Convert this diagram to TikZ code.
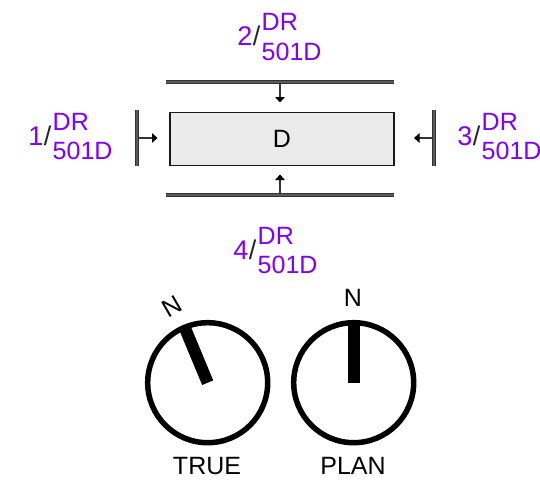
\documentclass[tikz,border=0pt]{standalone}
\usepackage{fontspec}
\setmainfont{Liberation Sans}
\usetikzlibrary{arrows.meta}
\definecolor{labelpurple}{HTML}{7F00FF}
\definecolor{bargray}{HTML}{333333}
\definecolor{barcore}{HTML}{5A5A5A}
\definecolor{boxfill}{HTML}{EBEBEB}
\tikzset{
  bar/.style={draw=bargray,line width=1.2pt,double=barcore,double distance=1.2pt},
  pointer/.style={draw=bargray,line width=1.1pt,-{Triangle[width=9.5pt,length=5.5pt,color=black]}},
  building/.style={draw=black!90,fill=boxfill,line width=1.4pt,minimum width=224pt,minimum height=53.5pt,inner sep=0pt,font=\fontsize{25}{25}\selectfont},
  dial/.style={circle,draw=black,line width=5.5pt,minimum size=120pt,inner sep=0pt},
  needle/.style={draw=black,line width=12pt},
  bigtext/.style={font=\fontsize{25}{25}\selectfont,inner sep=0pt},
  purpletext/.style={bigtext,text=labelpurple},
  numbertext/.style={font=\fontsize{27}{27}\selectfont,inner sep=0pt,text=labelpurple},
  slashtext/.style={font=\fontsize{27}{27}\selectfont,inner sep=0pt,text=black!85},
}
\begin{document}
\begin{tikzpicture}[x=1pt,y=-1pt]
\useasboundingbox (0,0) rectangle (540,495);
% building
\node[building] (box) at (282,139) {D};
% section bars
\coordinate (topL) at (166,82);
\coordinate (topR) at (394,82);
\coordinate (botL) at (166,195);
\coordinate (botR) at (394,195);
\coordinate (leftT) at (137,110);
\coordinate (leftB) at (137,166);
\coordinate (rightT) at (434,110);
\coordinate (rightB) at (434,166);
\draw[bar] (topL) -- (topR);
\draw[bar] (botL) -- (botR);
\draw[bar] (leftT) -- (leftB);
\draw[bar] (rightT) -- (rightB);
% pointers
\coordinate (topS) at (280,83.5);
\coordinate (topE) at (280,102.5);
\coordinate (botS) at (280,193.5);
\coordinate (botE) at (280,174.5);
\coordinate (leftS) at (138.5,138);
\coordinate (leftE) at (157.5,138);
\coordinate (rightS) at (432.5,138);
\coordinate (rightE) at (414,138);
\draw[pointer] (topS) -- (topE);
\draw[pointer] (botS) -- (botE);
\draw[pointer] (leftS) -- (leftE);
\draw[pointer] (rightS) -- (rightE);
% section labels
\node[numbertext,anchor=base east] (n2) at (252.5,45.5) {2};
\node[slashtext,anchor=base east] (h2) at (260.5,45.5) {/};
\node[purpletext,anchor=base west] (d2) at (261.5,30.5) {DR};
\node[purpletext,anchor=base west] (s2) at (261.5,60) {501D};
\node[numbertext,anchor=base east] (n1) at (43.5,145.5) {1};
\node[slashtext,anchor=base east] (h1) at (51.5,145.5) {/};
\node[purpletext,anchor=base west] (d1) at (52.5,130.5) {DR};
\node[purpletext,anchor=base west] (s1) at (52.5,159) {501D};
\node[numbertext,anchor=base east] (n3) at (472.5,145.5) {3};
\node[slashtext,anchor=base east] (h3) at (480.5,145.5) {/};
\node[purpletext,anchor=base west] (d3) at (481.5,130.5) {DR};
\node[purpletext,anchor=base west] (s3) at (481.5,159) {501D};
\node[numbertext,anchor=base east] (n4) at (248.5,259.5) {4};
\node[slashtext,anchor=base east] (h4) at (256.5,259.5) {/};
\node[purpletext,anchor=base west] (d4) at (257.5,244.5) {DR};
\node[purpletext,anchor=base west] (s4) at (257.5,273) {501D};
% north dials
\node[dial] (trued) at (207.7,382.7) {};
\node[dial] (pland) at (353.7,382.7) {};
\coordinate (trueT) at (184.5,327);
\coordinate (planT) at (353.7,323);
\draw[needle] (trued.center) -- (trueT);
\draw[needle] (pland.center) -- (planT);
\node[bigtext,rotate=30] (trueN) at (172,307) {N};
\node[bigtext] (planN) at (353,298) {N};
\node[bigtext] (trueL) at (207,466) {TRUE};
\node[bigtext] (planL) at (353,466) {PLAN};
\end{tikzpicture}
\end{document}
